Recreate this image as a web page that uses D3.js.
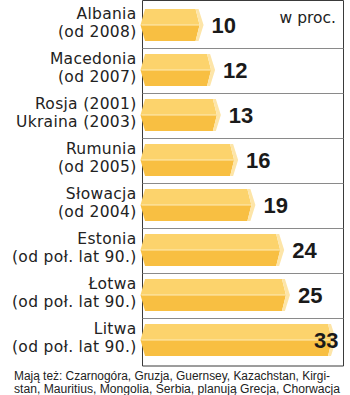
<!DOCTYPE html>
<html>
<head>
<meta charset="utf-8">
<script src="https://cdn.jsdelivr.net/npm/d3@7"></script>
<style>
  html, body { margin: 0; padding: 0; background: #fff; }
  svg { display: block; }
</style>
</head>
<body>
<div id="chart"></div>
<script>
// Countries with a flat income tax, and the rate in percent
const countryLine = ["Albania", "Macedonia", "Rosja (2001)", "Rumunia", "Słowacja", "Estonia", "Łotwa", "Litwa"];
const sinceLine = ["(od 2008)", "(od 2007)", "Ukraina (2003)", "(od 2005)", "(od 2004)", "(od poł. lat 90.)", "(od poł. lat 90.)", "(od poł. lat 90.)"];
const rates = [10, 12, 13, 16, 19, 24, 25, 33];
const unitLabel = "w proc.";
const footnote = [
  "Mają też: Czarnogóra, Gruzja, Guernsey, Kazachstan, Kirgi-",
  "stan, Mauritius, Mongolia, Serbia, planują Grecja, Chorwacja"
];

const W = 350, H = 395;
const frame = { left: 142.5, right: 343.5, top: 0.5, bottom: 366 };

const svg = d3.select("#chart").append("svg")
  .attr("width", W).attr("height", H);

const idx = d3.range(rates.length);

// Band scale: step 45, bar height 32
const y = d3.scaleBand()
  .domain(idx)
  .range([2.5, 362.5])
  .paddingInner(13 / 45)
  .paddingOuter(6.5 / 45);

// Linear scale gives the x of the bar's pointed end
const x = d3.scaleLinear().domain([0, 33]).range([146, 336]);

// Frame
const g = svg.append("g");
g.append("path")
  .attr("d", `M${frame.left},${frame.top}H${frame.right}V${frame.bottom}H${frame.left}Z`)
  .attr("fill", "none").attr("stroke", "#3a3a3a").attr("stroke-width", 1);

// Row separators
idx.slice(0, -1).forEach(i => {
  const sy = Math.round(y(i) + y.bandwidth() + (y.step() - y.bandwidth()) / 2) + 0.5;
  g.append("line")
    .attr("x1", frame.left).attr("x2", frame.right)
    .attr("y1", sy).attr("y2", sy)
    .attr("stroke", "#8a8a8a").attr("stroke-width", 1);
});

// Prism-like bars
const bars = g.selectAll("g.bar").data(idx).enter().append("g").attr("class", "bar");
const leftTip = 140.5, leftCorner = 145;

bars.each(function(i) {
  const top = y(i), h = y.bandwidth(), mid = top + h / 2, bot = top + h;
  const tip = x(rates[i]);
  const x1 = tip - 8;
  const sel = d3.select(this);
  // upper face
  sel.append("path")
    .attr("d", `M${leftCorner},${top}L${x1},${top}L${x1 + 4},${mid}L${leftTip},${mid}Z`)
    .attr("fill", "#fcd36c");
  // lower face
  sel.append("path")
    .attr("d", `M${leftTip},${mid}L${x1 + 4},${mid}L${x1},${bot}L${leftCorner},${bot}Z`)
    .attr("fill", "#f8bf42");
  // ridge highlight
  sel.append("line")
    .attr("x1", leftTip + 1).attr("x2", x1 + 4)
    .attr("y1", mid).attr("y2", mid)
    .attr("stroke", "#fdebb8").attr("stroke-width", 1);
  // end cap
  sel.append("path")
    .attr("d", `M${x1},${top}L${x1 + 3},${top}L${tip},${mid}L${x1 + 3},${bot}L${x1},${bot}L${x1 + 4},${mid}Z`)
    .attr("fill", "#fde5a8");
});

// Category labels, two lines, right-aligned
const labelFont = "'DejaVu Sans', sans-serif";
idx.forEach(i => {
  const mid = y(i) + y.bandwidth() / 2;
  [[countryLine[i], mid - 6.5], [sinceLine[i], mid + 11.5]].forEach(([txt, by]) => {
    g.append("text")
      .attr("x", 136.5).attr("y", by)
      .attr("text-anchor", "end")
      .attr("font-family", labelFont)
      .attr("font-size", 15.5)
      .attr("letter-spacing", 0.3)
      .attr("fill", "#222")
      .text(txt);
  });
});

// Value labels
idx.forEach(i => {
  const mid = y(i) + y.bandwidth() / 2;
  const tip = x(rates[i]);
  const t = g.append("text")
    .attr("font-family", "'Liberation Sans', Arial, sans-serif")
    .attr("font-weight", 700)
    .attr("font-size", 22)
    .attr("fill", "#1a1a1a")
    .attr("y", mid + 7.5)
    .text(rates[i]);
  const w = t.node().getComputedTextLength();
  if (tip + 8 + w > frame.right - 3) {
    t.attr("x", frame.right - 5).attr("text-anchor", "end");
  } else {
    t.attr("x", tip + 8);
  }
});

// Unit
g.append("text")
  .attr("x", 336).attr("y", 23)
  .attr("text-anchor", "end")
  .attr("font-family", labelFont)
  .attr("font-size", 15.5)
  .attr("fill", "#222")
  .text(unitLabel);

// Footnote
footnote.forEach((line, k) => {
  const t = g.append("text")
    .attr("x", 14).attr("y", 380 + k * 12.5)
    .attr("font-family", "'Liberation Sans', Arial, sans-serif")
    .attr("font-size", 12)
    .attr("fill", "#222")
    .text(line);
  const target = k === 0 ? 316 : 326;
  t.attr("textLength", target).attr("lengthAdjust", "spacingAndGlyphs");
});
</script>
</body>
</html>
